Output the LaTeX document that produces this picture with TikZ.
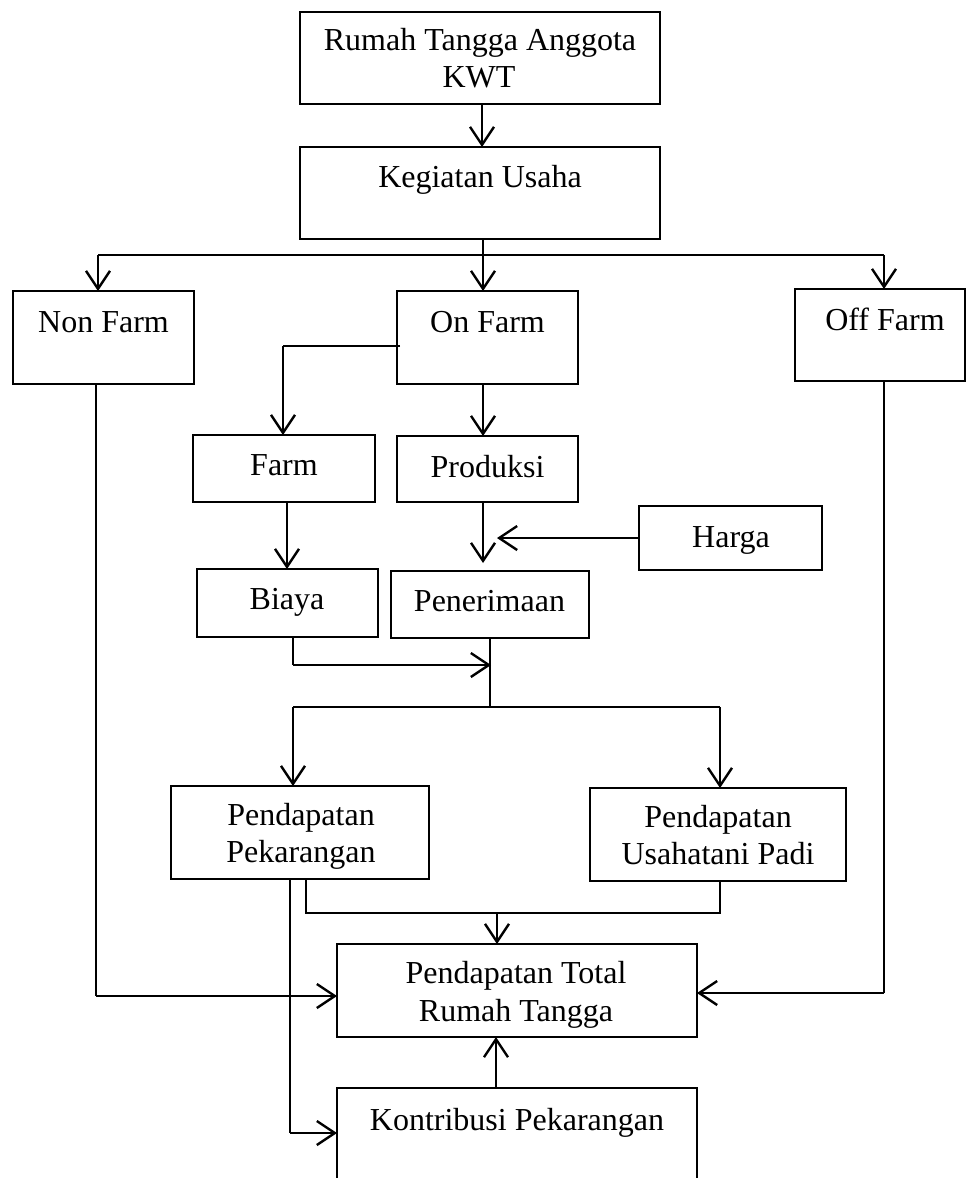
\documentclass[tikz,border=0pt]{standalone}
\usepackage{fontspec}
\setmainfont{Liberation Serif}
\usetikzlibrary{arrows.meta,calc}
\begin{document}
\begin{tikzpicture}[x=1pt,y=-1pt,
  box/.style={draw,line width=1.8pt,inner sep=0pt,outer sep=0pt},
  txt/.style={anchor=base,inner sep=0pt,font=\fontsize{32}{37}\selectfont},
  thinln/.style={line width=1.3pt},
  thickln/.style={line width=2.4pt},
  arr/.style={line width=2.4pt,-{Straight Barb[length=18pt,width=24pt,line width=2.4pt]}}]
\useasboundingbox (0,0) rectangle (968,1178);
\clip (0,0) rectangle (968,1178);
% boxes
\node[box,minimum width=360pt,minimum height=92pt] (rumah) at (480,58) {};
\node[box,minimum width=360pt,minimum height=92pt] (kegiatan) at (480,193) {};
\node[box,minimum width=181pt,minimum height=93pt] (nonfarm) at (103.5,337.5) {};
\node[box,minimum width=181pt,minimum height=93pt] (onfarm) at (487.5,337.5) {};
\node[box,minimum width=170pt,minimum height=92pt] (offfarm) at (880,335) {};
\node[box,minimum width=182pt,minimum height=67pt] (farm) at (284,468.5) {};
\node[box,minimum width=181pt,minimum height=66pt] (produksi) at (487.5,469) {};
\node[box,minimum width=183pt,minimum height=64pt] (harga) at (730.5,538) {};
\node[box,minimum width=181pt,minimum height=68pt] (biaya) at (287.5,603) {};
\node[box,minimum width=198pt,minimum height=67pt] (penerimaan) at (490,604.5) {};
\node[box,minimum width=258pt,minimum height=93pt] (pekarangan) at (300,832.5) {};
\node[box,minimum width=256pt,minimum height=93pt] (usahatani) at (718,834.5) {};
\node[box,minimum width=360pt,minimum height=93pt] (total) at (517,990.5) {};
\node[box,minimum width=360pt,minimum height=112pt] (kontribusi) at (517,1144) {};
% texts
\node[txt] (rumahA) at (480,50) {Rumah Tangga Anggota};
\node[txt] (rumahB) at (479,87) {KWT};
\node[txt] (kegiatanT) at (480,187) {Kegiatan Usaha};
\node[txt] (nonfarmT) at (103.5,332) {Non Farm};
\node[txt] (onfarmT) at (487.5,332) {On Farm};
\node[txt] (offfarmT) at (885,330) {Off Farm};
\node[txt] (farmT) at (284,475) {Farm};
\node[txt] (produksiT) at (487.5,477) {Produksi};
\node[txt] (hargaT) at (731,547) {Harga};
\node[txt] (biayaT) at (287,609) {Biaya};
\node[txt] (penerimaanT) at (489.5,611) {Penerimaan};
\node[txt] (pekaranganA) at (301,825) {Pendapatan};
\node[txt] (pekaranganB) at (301,862) {Pekarangan};
\node[txt] (usahataniA) at (718,827) {Pendapatan};
\node[txt] (usahataniB) at (718,864) {Usahatani Padi};
\node[txt] (totalA) at (516,983) {Pendapatan Total};
\node[txt] (totalB) at (516,1021) {Rumah Tangga};
\node[txt] (kontribusiT) at (517,1130) {Kontribusi Pekarangan};
% helper coordinates
\coordinate (bl) at (98,255);
\coordinate (bm) at (483,255);
\coordinate (br) at (884,255);
\coordinate (ofl) at (400,346);
\coordinate (ofc) at (283,346);
\coordinate (hargatip) at (497,538);
\coordinate (pentip) at (483,563);
\coordinate (bya) at (293,665);
\coordinate (byb) at (491,665);
\coordinate (pn) at (490,707);
\coordinate (pl) at (293,707);
\coordinate (pr) at (720,707);
\coordinate (ql) at (306,913);
\coordinate (qm) at (497,913);
\coordinate (qr) at (720,913);
\coordinate (kl) at (290,1133);
\coordinate (nfb) at (96,996);
\coordinate (ffb) at (884,993);
% connectors
\draw[arr] (rumah.south -| 482,0) -- (kegiatan.north -| 482,0);
\draw[thickln] (kegiatan.south -| bm) -- (bm);
\draw[thinln] (bl) -- (br);
\draw[arr] (bm) -- (onfarm.north -| bm);
\draw[arr] (bl) -- (nonfarm.north -| bl);
\draw[arr] (br) -- (offfarm.north -| br);
\draw[thinln] (ofl) -- (ofc);
\draw[arr] (ofc) -- (farm.north -| ofc);
\draw[arr] (onfarm.south -| bm) -- (produksi.north -| bm);
\draw[arr] (farm.south -| 287,0) -- (biaya.north -| 287,0);
\draw[arr] (produksi.south -| bm) -- (pentip);
\draw[arr] (harga.west) -- (hargatip);
\draw[thinln] (biaya.south -| bya) -- (bya);
\draw[arr] (bya) -- (byb);
\draw[thinln] (penerimaan.south -| pn) -- (pn);
\draw[thinln] (pl) -- (pr);
\draw[arr] (pl) -- (pekarangan.north -| pl);
\draw[arr] (pr) -- (usahatani.north -| pr);
\draw[thinln] (pekarangan.south -| ql) -- (ql) -- (qr) -- (usahatani.south -| qr);
\draw[arr] (qm) -- (total.north -| qm);
\draw[thinln] (pekarangan.south -| kl) -- (kl);
\draw[arr] (kl) -- (kontribusi.west |- kl);
\draw[thinln] (nonfarm.south -| nfb) -- (nfb);
\draw[arr] (nfb) -- (total.west |- nfb);
\draw[thinln] (offfarm.south -| ffb) -- (ffb);
\draw[arr] (ffb) -- (total.east |- ffb);
\draw[arr] (kontribusi.north -| 496,0) -- (total.south -| 496,0);
\end{tikzpicture}
\end{document}
